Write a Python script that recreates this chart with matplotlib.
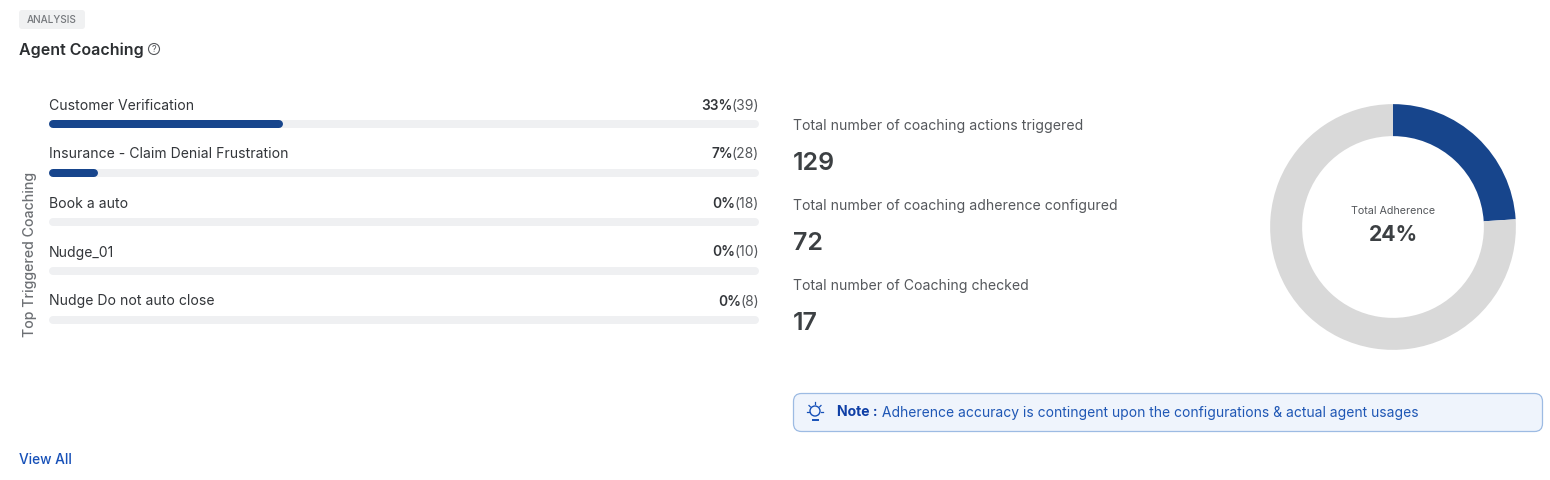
import matplotlib
matplotlib.use("Agg")
import matplotlib.pyplot as plt
from matplotlib.patches import FancyBboxPatch, Circle

plt.rcParams['font.family'] = ['Inter', 'DejaVu Sans']

categories = ["Customer Verification", "Insurance - Claim Denial Frustration",
              "Book a auto", "Nudge_01", "Nudge Do not auto close"]
percents = [33, 7, 0, 0, 0]
counts = [39, 28, 18, 10, 8]

stat_labels = ["Total number of coaching actions triggered",
               "Total number of coaching adherence configured",
               "Total number of Coaching checked"]
stat_values = [129, 72, 17]

adherence = 24

BLUE = "#17458c"
TRACK = "#eff0f2"
DARK = "#3c4043"
GREY = "#55585c"
LINK = "#1650b8"

W, H = 1550, 480
fig = plt.figure(figsize=(W / 100, H / 100), dpi=100, facecolor="white")


def px_axes(x0, y0, x1, y1, **kw):
    return fig.add_axes([x0 / W, 1 - y1 / H, (x1 - x0) / W, (y1 - y0) / H], **kw)


# full figure layer for text and decoration, in pixels
bg = px_axes(0, 0, W, H)
bg.set_xlim(0, W)
bg.set_ylim(H, 0)
bg.axis("off")

bg.add_patch(FancyBboxPatch((19, 10), 66, 19, boxstyle="round,pad=0,rounding_size=3",
                            fc="#f0f1f2", ec="none"))
bg.text(51.5, 20, "ANALYSIS", fontsize=7.2, color="#75787c", fontweight="medium",
        ha="center", va="center")
bg.text(19, 50, "Agent Coaching", fontsize=11.5, color="#2b2e31", fontweight="semibold",
        va="center")
bg.add_patch(Circle((154, 49), 5.5, fc="none", ec="#55585c", lw=0.8))
bg.text(154, 49.3, "?", fontsize=6.5, color="#55585c", ha="center", va="center")

bg.text(30, 254.5, "Top Triggered Coaching", fontsize=10.2, color="#6d7074", fontweight="medium",
        rotation=90, ha="center", va="center")

# progress bars, x is percent, one row per category
ax = px_axes(49, 99, 759, 344)
ax.set_xlim(0, 100)
ax.set_ylim(4.5, -0.5)
ax.axis("off")
bar_lw = 8 * 0.72
ys = [i + 0.0 for i in range(len(categories))]
ax.hlines(ys, 0.5, 99.5, color=TRACK, lw=bar_lw, capstyle="round", zorder=1)
for y, p in zip(ys, percents):
    if p > 0:
        ax.hlines(y, 0.5, p - 0.6, color=BLUE, lw=bar_lw, capstyle="round", zorder=2)

for y, name, p, c in zip(ys, categories, percents, counts):
    ax.annotate(name, (0, y), xytext=(0, 18), textcoords="offset pixels",
                fontsize=10.1, color="#33363a", va="center")
    ann = ax.annotate(f"({c})", (100, y), xytext=(0, 18), textcoords="offset pixels",
                      fontsize=10, color=GREY, ha="right", va="center")
    ax.annotate(f"{p}%", xy=(0, 0.5), xycoords=ann, xytext=(1, 0), textcoords="offset pixels",
                fontsize=9.9, color="#33363a", fontweight="semibold", ha="right", va="center")

# stats column
for label, value, y in zip(stat_labels, stat_values, [125, 205, 285]):
    bg.text(793, y + 1, label, fontsize=10.12, color=GREY, va="center")
    bg.text(793, y + 38.5, str(value), fontsize=18, color=DARK, fontweight="semibold", va="center")

# donut
dax = px_axes(1265, 99, 1521, 355)
dax.pie([adherence, 100 - adherence], colors=[BLUE, "#d9d9d9"], startangle=90, counterclock=False,
        radius=0.96, wedgeprops=dict(width=0.25, linewidth=0))
dax.set_xlim(-1, 1)
dax.set_ylim(-1, 1)
bg.text(1393, 211, "Total Adherence", fontsize=7.75, color=GREY, ha="center", va="center")
bg.text(1393, 235, f"{adherence}%", fontsize=15.3, color=DARK, fontweight="bold",
        ha="center", va="center")

# note box
bg.add_patch(FancyBboxPatch((793.5, 393.5), 749, 38, boxstyle="round,pad=0,rounding_size=8",
                            fc="#eff4fc", ec="#9dbbe3", lw=0.9))
bg.add_patch(Circle((815, 411), 5, fc="none", ec=LINK, lw=1))
bg.plot([812.5, 817.5], [419.5, 419.5], color=LINK, lw=1.4)
for x0, y0, x1, y1 in [(815, 402, 815, 404), (807, 411.5, 809, 411.5), (821, 411.5, 823, 411.5),
                       (809, 405.5, 810.3, 406.8), (821, 405.5, 819.7, 406.8)]:
    bg.plot([x0, x1], [y0, y1], color=LINK, lw=0.9)
note = bg.text(837, 412.5, "Note :", fontsize=10.1, color="#0f3fa6", fontweight="bold", va="center")
bg.annotate(" Adherence accuracy is contingent upon the configurations & actual agent usages",
            xy=(1, 0.5), xycoords=note, fontsize=10, color="#1f57b5", va="center")

bg.text(19, 459.5, "View All", fontsize=9.9, color=LINK, fontweight="medium", va="center")

fig.savefig("out.png", dpi=100, facecolor="white")
